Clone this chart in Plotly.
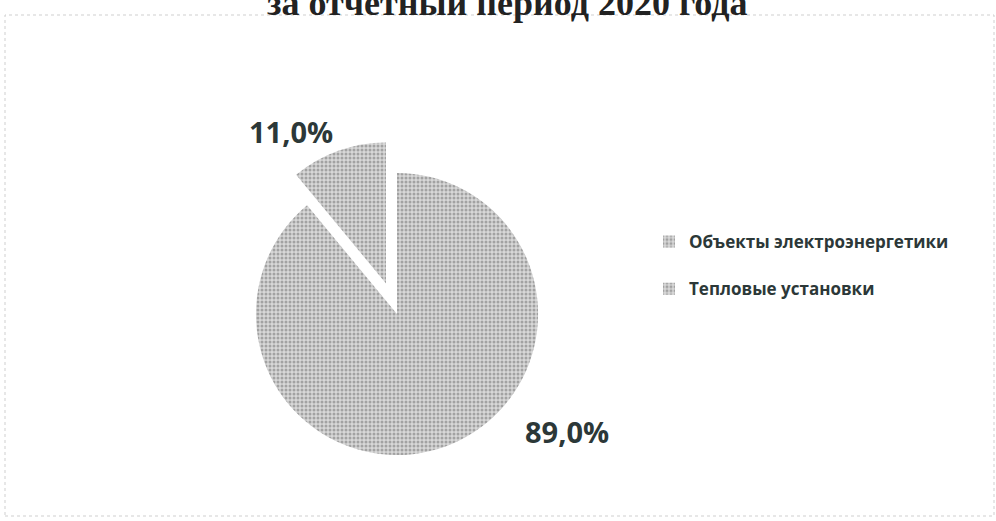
import plotly.graph_objects as go

# Data
categories = ["Объекты электроэнергетики", "Тепловые установки"]
shares = [89.0, 11.0]
title_text = "за отчетный период 2020 года"

W, H = 996, 521

def fmt(v):
    return f"{v:.1f}%".replace(".", ",")

legend_labels = [c + "<br> " for c in categories]

fig = go.Figure()
fig.add_trace(go.Pie(
    labels=legend_labels,
    values=shares,
    sort=False,
    direction="clockwise",
    rotation=0,
    pull=[0, 0.23],
    textinfo="none",
    hoverinfo="label+percent",
    marker=dict(
        colors=["#c4c4c4", "#c4c4c4"],
        line=dict(width=0),
        pattern=dict(shape=".", fgcolor="#a2a2a2", bgcolor="#d8d8d8", size=4, solidity=0.45),
    ),
    domain=dict(x=[0.2244, 0.5728], y=[0.0643, 0.7303]),
))

# data labels (positions are layout choices)
label_pos = [(567 / W, 1 - 431 / H), (291 / W, 1 - 131 / H)]
annotations = []
for v, (px, py) in zip(shares, label_pos):
    annotations.append(dict(
        text=fmt(v), x=px, y=py, xref="paper", yref="paper",
        xanchor="center", yanchor="middle", showarrow=False,
        font=dict(family="Open Sans", size=29, color="#2c3838", weight="bold"),
    ))

annotations.append(dict(
    text="<b>" + title_text + "</b>", x=507 / W, y=1 - 25 / H, xref="paper", yref="paper",
    xanchor="center", yanchor="bottom", showarrow=False,
    font=dict(family="Liberation Serif", size=36, color="#222222"),
))

fig.update_layout(
    width=W, height=H,
    margin=dict(l=0, r=0, t=0, b=0),
    paper_bgcolor="white",
    plot_bgcolor="white",
    showlegend=True,
    legend=dict(
        x=649 / W, xanchor="left",
        y=1 - 224 / H, yanchor="top",
        valign="top",
        font=dict(family="Open Sans", size=17, color="#2c3838", weight="bold"),
        bgcolor="rgba(0,0,0,0)",
    ),
    annotations=annotations,
    shapes=[dict(
        type="rect", xref="paper", yref="paper",
        x0=5 / W, x1=994 / W, y0=1 - 516 / H, y1=1 - 15 / H,
        line=dict(color="#cfcfcf", width=1, dash="dot"),
        layer="below",
    )],
)

fig.write_html("out.html")
